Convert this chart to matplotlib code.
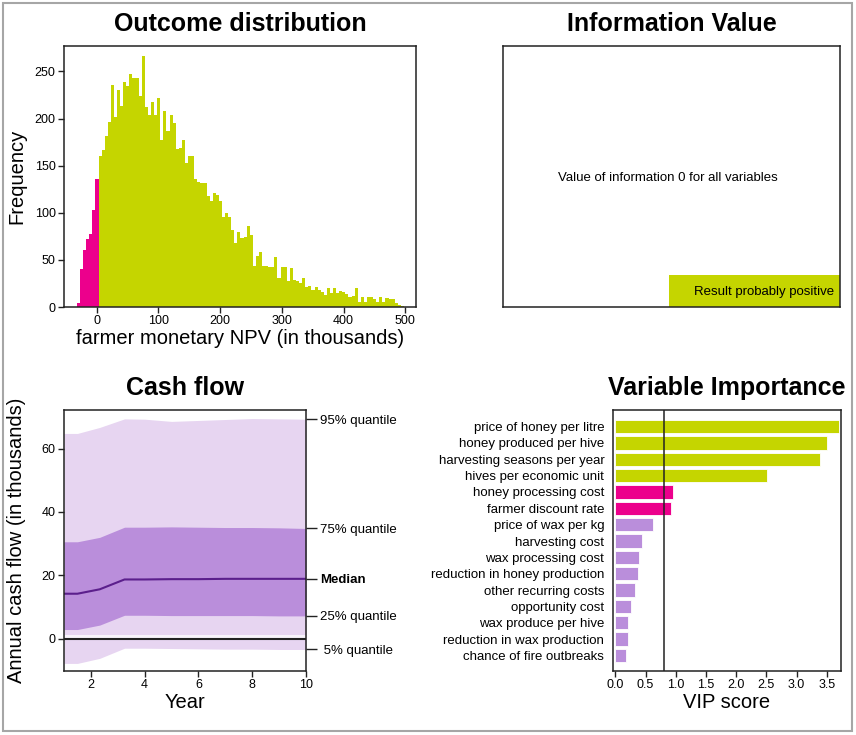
import matplotlib
matplotlib.use("Agg")
import matplotlib.pyplot as plt
import matplotlib.patches as mpatches
import matplotlib.transforms as mtransforms
import numpy as np

plt.rcParams['font.family'] = ['Liberation Sans', 'DejaVu Sans']

# ---------------- data ----------------
# Histogram of farmer NPV (thousands), bins of width 5 starting at -32
hist_bin_start = -32
hist_bin_width = 5
hist_counts = [4, 40, 61, 72, 77, 103, 136,
               160, 167, 182, 196, 236, 202, 230, 213, 239, 235, 247, 243, 243, 224,
               266, 212, 204, 218, 204, 222, 177, 208, 187, 204, 195, 168,
               169, 177, 153, 160, 160, 136, 133, 132, 132, 118, 112, 121, 119, 112,
               95, 100, 95, 82, 68, 80, 73, 74, 86,
               76, 44, 54, 58, 44, 44, 42, 42, 53, 31,
               42, 42, 28, 41, 29, 28, 25, 31, 21, 22, 18, 21, 18, 16, 13, 20, 15,
               20, 15, 17, 16, 14, 11, 12, 20, 5, 11, 5, 11, 11, 8, 5, 11, 5, 10,
               8, 9, 4, 2, 1]
hist_xticks = [0, 100, 200, 300, 400, 500]
hist_yticks = [0, 50, 100, 150, 200, 250]

# Cash flow quantiles (thousands)
cf_year = [1, 1.5, 2.33, 3.25, 4, 5, 6, 7, 8, 9, 10]
cf_q95 = [64.8, 64.8, 66.7, 69.4, 69.3, 68.6, 68.9, 69.2, 69.5, 69.4, 69.3]
cf_q75 = [30.6, 30.6, 32.0, 35.2, 35.2, 35.3, 35.2, 35.1, 35.1, 35.0, 34.8]
cf_med = [14.2, 14.2, 15.6, 18.7, 18.7, 18.8, 18.8, 18.9, 18.9, 18.9, 18.9]
cf_q25 = [2.9, 2.9, 4.3, 7.4, 7.4, 7.3, 7.3, 7.3, 7.3, 7.2, 7.2]
cf_q05 = [-7.8, -7.8, -6.2, -3.0, -3.0, -3.1, -3.2, -3.3, -3.3, -3.4, -3.4]
cf_quantile_labels = ["95% quantile", "75% quantile", "Median", "25% quantile", " 5% quantile"]
cf_xticks = [2, 4, 6, 8, 10]
cf_yticks = [0, 20, 40, 60]

# Variable importance
vip_names = ["price of honey per litre", "honey produced per hive",
             "harvesting seasons per year", "hives per economic unit",
             "honey processing cost", "farmer discount rate",
             "price of wax per kg", "harvesting cost", "wax processing cost",
             "reduction in honey production", "other recurring costs",
             "opportunity cost", "wax produce per hive",
             "reduction in wax production", "chance of fire outbreaks"]
vip_scores = [3.71, 3.51, 3.38, 2.51, 0.95, 0.93, 0.62, 0.45, 0.39, 0.38,
              0.32, 0.26, 0.21, 0.21, 0.18]
vip_sign = ["+", "+", "+", "+", "-", "-", "+", "+", "+", "+", "+", "+", "+", "+", "+"]
vip_threshold = 0.8
vip_xticks = [0.0, 0.5, 1.0, 1.5, 2.0, 2.5, 3.0, 3.5]

# ---------------- styles ----------------
GREEN = "#C5D500"
PINK = "#EC008C"
LIGHT_PURPLE = "#E7D5F1"
MID_PURPLE = "#BA8EDB"
DARK_PURPLE = "#5B1F8C"
SPINE = "#222222"

W, H = 856, 735
fig = plt.figure(figsize=(W / 100, H / 100), dpi=100)


def px_axes(l, t, r, b):
    return fig.add_axes([l / W, 1 - b / H, (r - l) / W, (b - t) / H])


def style_axes(ax):
    for s in ax.spines.values():
        s.set_color(SPINE)
        s.set_linewidth(1.1)
    ax.tick_params(direction='out', length=4, width=1, colors=SPINE,
                   labelsize=9, labelcolor='black', pad=2)


# ---------- Outcome distribution ----------
ax1 = px_axes(64, 46, 416, 307)
style_axes(ax1)
edges = [hist_bin_start + hist_bin_width * i for i in range(len(hist_counts))]
cols = [PINK if e < 0 else GREEN for e in edges]
ax1.bar(edges, hist_counts, width=hist_bin_width, align='edge', color=cols,
        linewidth=0)
ax1.set_xlim(-53, 517.5)
ax1.set_ylim(0, 277)
ax1.set_xticks(hist_xticks)
ax1.set_yticks(hist_yticks)
ax1.set_title("Outcome distribution", fontsize=18, fontweight='bold', pad=11)
ax1.set_xlabel("farmer monetary NPV (in thousands)", fontsize=14.5, va='center')
ax1.xaxis.set_label_coords(0.5, -31 / 261)
ax1.set_ylabel("Frequency", fontsize=14.5, va='center')
ax1.yaxis.set_label_coords(-47 / 352, 0.5)

# ---------- Information Value ----------
ax2 = px_axes(503, 46, 840, 307)
style_axes(ax2)
ax2.set_xticks([])
ax2.set_yticks([])
ax2.set_xlim(0, 1)
ax2.set_ylim(0, 1)
ax2.set_title("Information Value", fontsize=18, fontweight='bold', pad=11)
ax2.text(0.49, 0.494, "Value of information 0 for all variables",
         ha='center', va='center', fontsize=9.5)
ax2.add_patch(mpatches.Rectangle((0.4926, 0), 0.5074, 0.1226, facecolor=GREEN,
                                 edgecolor='none', transform=ax2.transAxes))
ax2.text(0.982, 0.057, "Result probably positive", ha='right', va='center',
         fontsize=9.5, transform=ax2.transAxes)

# ---------- Cash flow ----------
ax3 = px_axes(64, 410, 306, 670.7)
style_axes(ax3)
ax3.fill_between(cf_year, cf_q05, cf_q95, color=LIGHT_PURPLE, linewidth=0)
ax3.fill_between(cf_year, cf_q25, cf_q75, color=MID_PURPLE, linewidth=0)
ax3.plot(cf_year, cf_med, color=DARK_PURPLE, lw=1.5)
off = mtransforms.offset_copy(ax3.transData, fig=fig, x=0, y=2.6, units='dots')
ax3.plot([cf_year[0], cf_year[-1]], [0, 0], color='white', lw=2.2, alpha=0.75,
         transform=off)
ax3.axhline(0, color=SPINE, lw=1.5)
ax3.set_xlim(1, 10)
ax3.set_ylim(-10.1, 72.2)
ax3.set_xticks(cf_xticks)
ax3.set_yticks(cf_yticks)
ax3.set_title("Cash flow", fontsize=18, fontweight='bold', pad=11)
ax3.set_xlabel("Year", fontsize=14.5, va='center')
ax3.xaxis.set_label_coords(0.5, -32 / 260.7)
ax3.set_ylabel("Annual cash flow (in thousands)", fontsize=14.5, va='center')
ax3.yaxis.set_label_coords(-47 / 242, 0.5)

ax3r = ax3.twinx()
ax3r.set_ylim(ax3.get_ylim())
for s in ax3r.spines.values():
    s.set_visible(False)
ax3r.set_yticks([cf_q95[-1], cf_q75[-1], cf_med[-1], cf_q25[-1], cf_q05[-1]])
ax3r.set_yticklabels(cf_quantile_labels)
ax3r.tick_params(axis='y', direction='out', length=8, width=1, colors=SPINE,
                 labelsize=9.5, labelcolor='black', pad=2)
for lab in ax3r.get_yticklabels():
    if lab.get_text() == "Median":
        lab.set_fontweight('bold')

# ---------- Variable Importance ----------
ax4 = px_axes(612.7, 410, 840.7, 670.7)
style_axes(ax4)
ypos = np.arange(len(vip_names))
vcols = []
for s, sg in zip(vip_scores, vip_sign):
    if s < vip_threshold:
        vcols.append(MID_PURPLE)
    elif sg == "+":
        vcols.append(GREEN)
    else:
        vcols.append(PINK)
ax4.barh(ypos, vip_scores, height=0.82, color=vcols, edgecolor='white',
         linewidth=0.6)
ax4.axvline(vip_threshold, color=SPINE, lw=1.1)
ax4.set_ylim(len(vip_names) - 1 + 0.94, -1.02)
ax4.set_xlim(-0.043, 3.73)
ax4.set_yticks(ypos)
ax4.set_yticklabels(vip_names)
ax4.tick_params(axis='y', length=0, pad=6, labelsize=9.5)
ax4.set_xticks(vip_xticks)
ax4.set_xticklabels([f"{v:.1f}" for v in vip_xticks])
ax4.set_title("Variable Importance", fontsize=18, fontweight='bold', pad=11)
ax4.set_xlabel("VIP score", fontsize=14.5, va='center')
ax4.xaxis.set_label_coords(0.5, -32 / 260.7)

# figure border
fig.patches.append(mpatches.Rectangle((3 / W, 1 - 731 / H), 849 / W, 728.5 / H,
                                      transform=fig.transFigure, fill=False,
                                      edgecolor='#A6A6A6', lw=1.5))

fig.savefig("out.png", dpi=100)
